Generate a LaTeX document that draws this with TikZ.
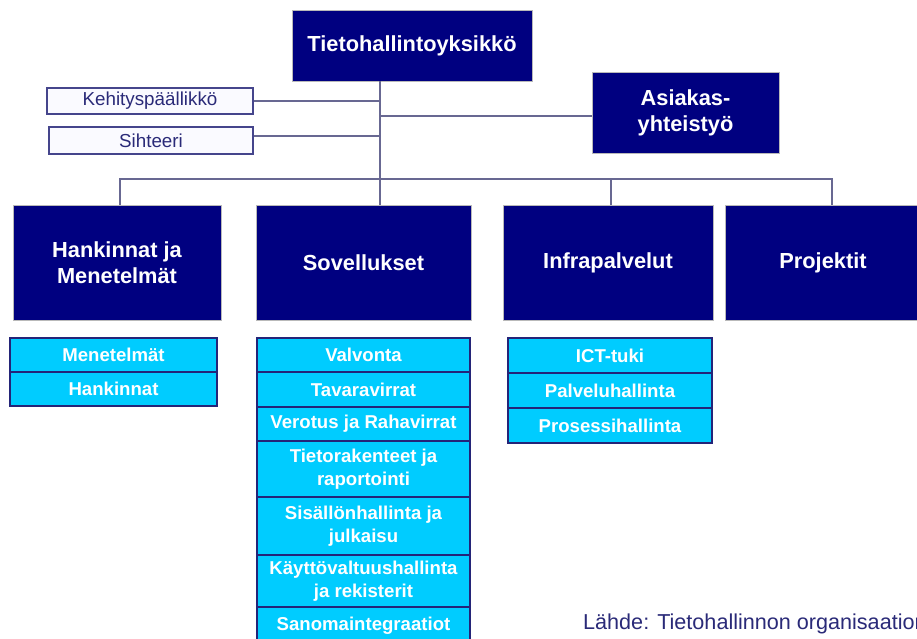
\documentclass[tikz,border=0pt]{standalone}
\usepackage{fontspec}
\setmainfont{Liberation Sans}
\definecolor{navybox}{RGB}{0,0,128}
\definecolor{cyanbox}{RGB}{0,204,255}
\definecolor{cyanedge}{RGB}{36,36,120}
\definecolor{linkcol}{RGB}{104,104,146}
\definecolor{inktext}{RGB}{42,42,120}
\definecolor{paleback}{RGB}{250,250,255}
\begin{document}
\begin{tikzpicture}[x=1pt,y=-1pt,
  unit/.style={fill=navybox,draw=gray!55,line width=0.8pt,text=white,
    inner sep=0pt,align=center,
    font=\fontsize{21.8pt}{26pt}\selectfont\bfseries},
  staff/.style={fill=paleback,draw=cyanedge!85,line width=1.3pt,text=inktext,
    inner sep=0pt,font=\fontsize{18.8pt}{22pt}\selectfont},
  team/.style={fill=cyanbox,draw=cyanedge,line width=1.5pt,text=white,
    inner sep=0pt,align=center,
    font=\fontsize{18.6pt}{22.5pt}\selectfont\bfseries},
  link/.style={draw=linkcol,line width=1.6pt}]
\fill[white] (0,0) rectangle (917,638);
\useasboundingbox (0,0) rectangle (917,638);
\clip (0,0) rectangle (917,638);

% top unit
\node[unit,minimum width=240pt,minimum height=71pt] (top) at (412,45.5) {Tietohallintoyksikkö};

% staff and customer cooperation
\node[staff,minimum width=206pt,minimum height=26pt] (keh) at (150,101) {Kehityspäällikkö};
\node[staff,minimum width=204pt,minimum height=27pt] (sih) at (151,140.5) {Sihteeri};
\node[unit,minimum width=187pt,minimum height=81pt] (asi) at (685.5,112.5) {Asiakas-\\yhteistyö};

% departments
\node[unit,minimum width=208pt,minimum height=115pt] (han) at (117,262.5) {Hankinnat ja\\Menetelmät};
\node[unit,minimum width=215pt,minimum height=115pt] (sov) at (363.5,262.5) {Sovellukset};
\node[unit,minimum width=210pt,minimum height=115pt] (inf) at (608,262.5) {Infrapalvelut};
\node[unit,minimum width=196pt,minimum height=115pt] (pro) at (823,262.5) {Projektit};

% connector junctions
\coordinate (trunk) at (380,179);
\coordinate (busL) at (120,179);
\coordinate (dropI) at (611,179);
\coordinate (busR) at (832,179);

\draw[link] (top.south -| trunk) -- (trunk |- sov.north);
\draw[link] (keh.east) -- (keh.east -| trunk);
\draw[link] ([yshift=4.5pt]sih.east) -- ([yshift=4.5pt]sih.east -| trunk);
\draw[link] ([yshift=-3.5pt]asi.west) -- ([yshift=-3.5pt]asi.west -| trunk);
\draw[link] (busL |- han.north) -- (busL) -- (busR) -- (busR |- pro.north);
\draw[link] (dropI) -- (dropI |- inf.north);

% teams of Hankinnat ja Menetelmät
\node[team,minimum width=207pt,minimum height=34pt] (h1) at (113.5,355) {Menetelmät};
\node[team,minimum width=207pt,minimum height=34pt] (h2) at (113.5,389) {Hankinnat};

% teams of Sovellukset
\node[team,minimum width=213pt,minimum height=34pt] (s1) at (363.5,355) {Valvonta};
\node[team,minimum width=213pt,minimum height=35pt] (s2) at (363.5,389.5) {Tavaravirrat};
\node[team,minimum width=213pt,minimum height=34pt] (s3) at (363.5,424) {Verotus ja Rahavirrat};
\node[team,minimum width=213pt,minimum height=56pt] (s4) at (363.5,469) {Tietorakenteet ja\\raportointi};
\node[team,minimum width=213pt,minimum height=58pt] (s5) at (363.5,526) {Sisällönhallinta ja\\julkaisu};
\node[team,minimum width=213pt,minimum height=52pt] (s6) at (363.5,581) {Käyttövaltuushallinta\\ja rekisterit};
\node[team,minimum width=213pt,minimum height=38pt] (s7) at (363.5,626) {Sanomaintegraatiot};

% teams of Infrapalvelut
\node[team,minimum width=204pt,minimum height=35pt] (i1) at (610,355.5) {ICT-tuki};
\node[team,minimum width=204pt,minimum height=35pt] (i2) at (610,390.5) {Palveluhallinta};
\node[team,minimum width=204pt,minimum height=35pt] (i3) at (610,425.5) {Prosessihallinta};

% source line
\node[anchor=base west,inner sep=0pt,text=inktext,font=\fontsize{21.6pt}{24pt}\selectfont] (src) at (583,629) {Lähde: Tietohallinnon organisaation};
\end{tikzpicture}
\end{document}
